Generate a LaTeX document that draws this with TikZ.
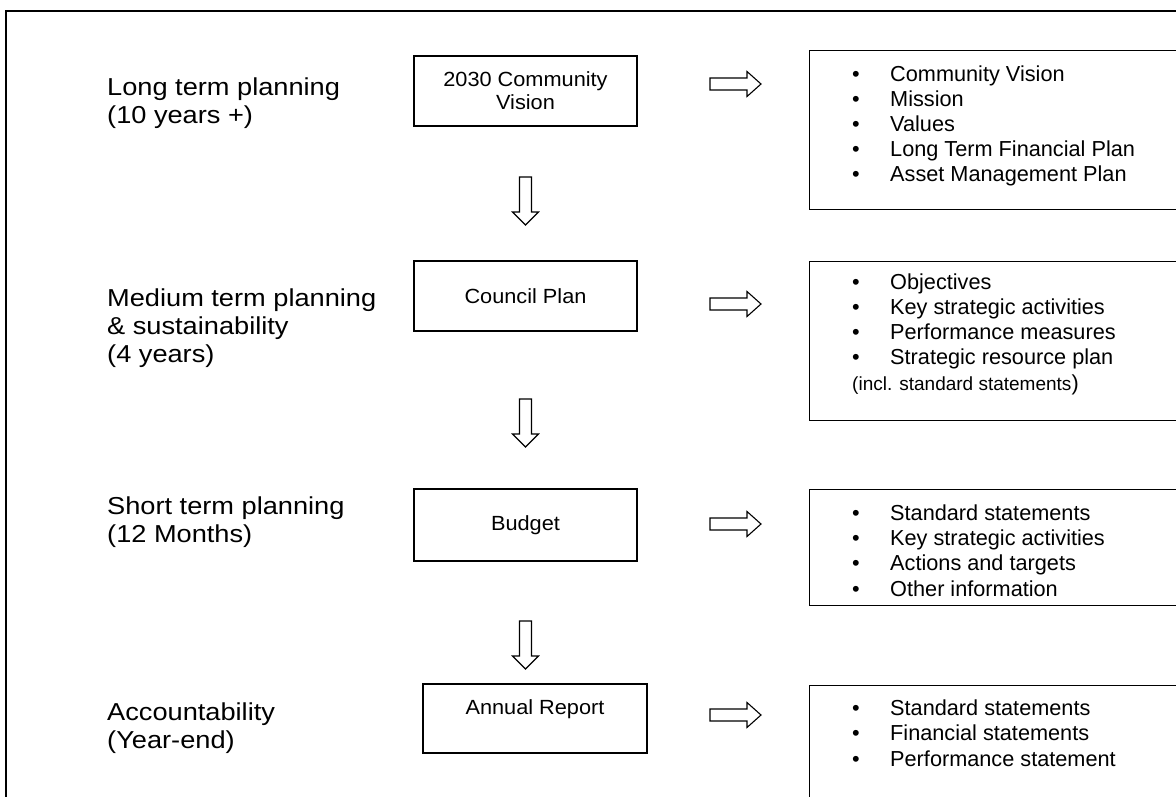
\documentclass[tikz,border=0pt]{standalone}
\usepackage{fontspec}
\setmainfont{Liberation Sans}
\newfontfamily\lblfont[FakeStretch=1.11]{Liberation Sans}
\newfontfamily\boxfont[FakeStretch=1.06]{Liberation Sans}
\newcommand{\bitem}[1]{\makebox[38pt][l]{•}#1}
\tikzset{
  frame/.style={line width=1.6pt},
  lbl/.style={anchor=base west, align=left, inner sep=0pt,
    font=\lblfont\fontsize{24.5}{28}\selectfont},
  cbox/.style={draw, line width=1.2pt, minimum width=223pt, minimum height=70pt,
    inner sep=0pt, align=center, font=\boxfont\fontsize{20.5}{23}\selectfont},
  rbox/.style={draw, line width=1.2pt, anchor=north west, minimum width=420pt, inner sep=0pt},
  list/.style={anchor=base west, align=left, inner sep=0pt,
    font=\fontsize{21.7}{25.2}\selectfont},
  blockarrow/.style={draw, line width=1.1pt, line join=miter, fill=white},
  rarr/.pic={\path[blockarrow] (0,-6) -- (37,-6) -- (37,-12.5) -- (51,0) -- (37,12.5) -- (37,6) -- (0,6) -- cycle;},
  darr/.pic={\path[blockarrow] (-6,0) -- (-6,35) -- (-13,35) -- (0,48) -- (13,35) -- (6,35) -- (6,0) -- cycle;}
}
\begin{document}
\begin{tikzpicture}[x=1pt,y=-1pt]
\useasboundingbox (0,0) rectangle (1176,797);
\clip (0,0) rectangle (1176,797);
\draw[frame] (6,11) rectangle (1200,830);

% left labels (anchor = baseline of last line)
\node[lbl] (l1) at (107,124) {Long term planning\\(10 years +)};
\node[lbl] (l2) at (107,362) {Medium term planning\\\& sustainability\\(4 years)};
\node[lbl] (l3) at (107,542) {Short term planning\\(12 Months)};
\node[lbl] (l4) at (107,748) {Accountability\\(Year-end)};

% centre boxes
\node[cbox] (b1) at (525.5,91) {2030 Community\\Vision};
\node[cbox] (b2) at (525.5,296) {Council Plan};
\node[cbox, minimum height=72pt] (b3) at (525.5,525) {Budget};
\node[cbox, minimum width=224pt, minimum height=69pt] (b4) at (535,718.5) {Annual Report\\\phantom{A}};

% down arrows
\pic (d1) at (525.5,177) {darr};
\pic (d2) at (525.5,399) {darr};
\pic (d3) at (525.5,621) {darr};

% right arrows
\pic (r1) at (710,84) {rarr};
\pic (r2) at (710,304) {rarr};
\pic (r3) at (710,524) {rarr};
\pic (r4) at (710,715) {rarr};

% right boxes
\node[rbox, minimum height=159pt] (rA) at (809,50) {};
\node[rbox, minimum height=159pt] (rB) at (809,261) {};
\node[rbox, minimum height=116pt] (rC) at (809,489) {};
\node[rbox, minimum height=150pt] (rD) at (809,685) {};

\node[list] (tA) at (852,182) {\bitem{Community Vision}\\\bitem{Mission}\\\bitem{Values}\\\bitem{Long Term Financial Plan}\\\bitem{Asset Management Plan}};
\node[list] (tB) at (852,390) {\bitem{Objectives}\\\bitem{Key strategic activities}\\\bitem{Performance measures}\\\bitem{Strategic resource plan}\\{\fontsize{19}{25.2}\selectfont (incl. standard statements})};
\node[list] (tC) at (852,596) {\bitem{Standard statements}\\\bitem{Key strategic activities}\\\bitem{Actions and targets}\\\bitem{Other information}};
\node[list] (tD) at (852,766) {\bitem{Standard statements}\\\bitem{Financial statements}\\\bitem{Performance statement}};
\end{tikzpicture}
\end{document}
